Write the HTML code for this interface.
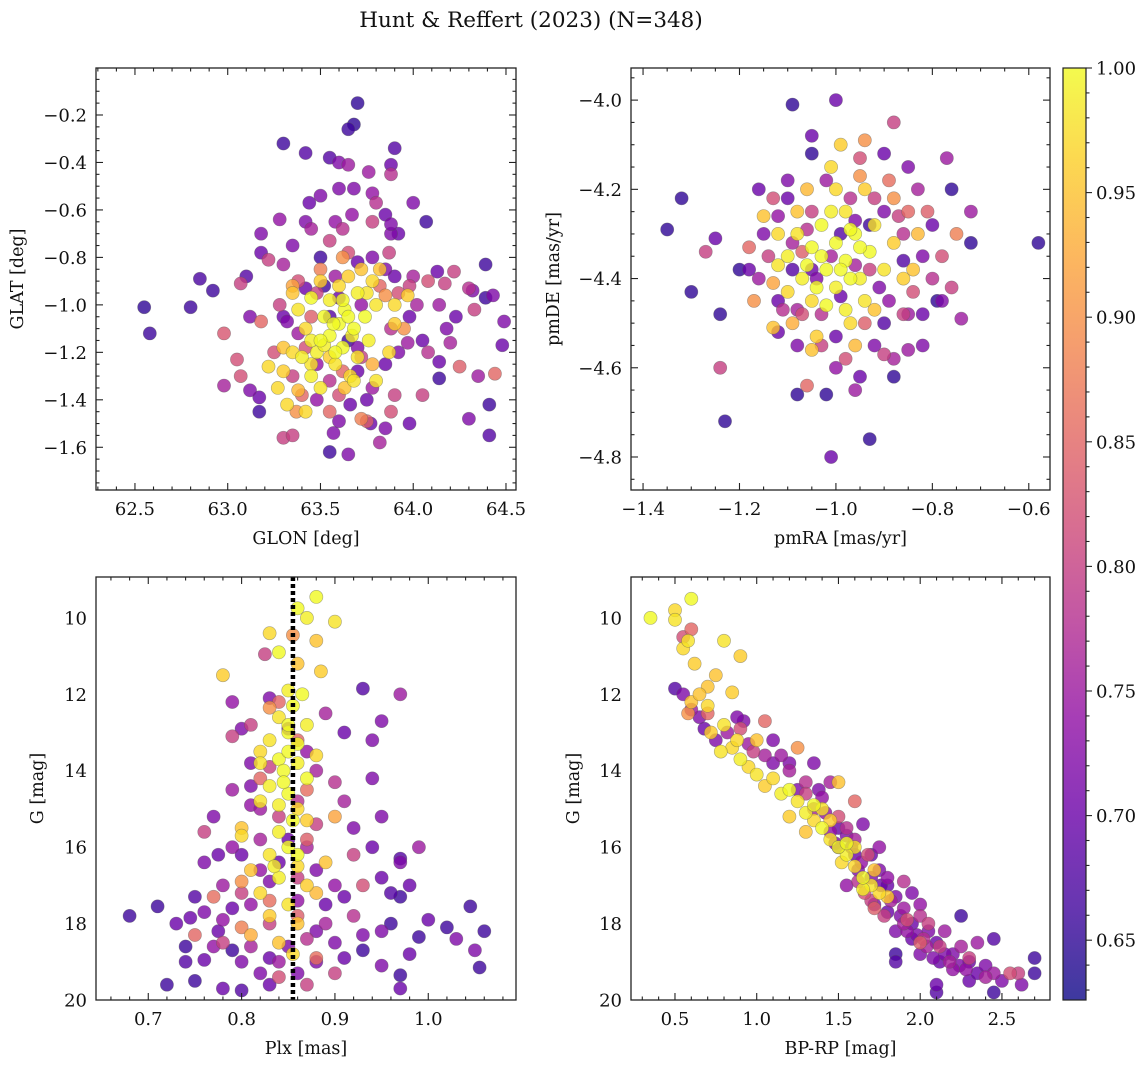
<!DOCTYPE html>
<html><head><meta charset="utf-8">
<style>
html,body{margin:0;padding:0;background:#fff;}
svg{display:block;font-family:"DejaVu Serif","Liberation Serif",serif;}
</style></head>
<body>
<svg id="fig" width="1148" height="1067" viewBox="0 0 1148 1067" xmlns="http://www.w3.org/2000/svg">
<rect width="1148" height="1067" fill="#fff"/>
<text x="531" y="27" font-size="21.5" text-anchor="middle" fill="#111">Hunt &amp; Reffert (2023) (N=348)</text>
</svg>
<script>
// Panel 1: GLON / GLAT / probability
const posData=[[62.55,-1.01,.65],[62.58,-1.12,.66],[62.8,-1.01,.66],[62.85,-0.89,.67],[62.92,-0.94,.66],[62.98,-1.12,.83],[62.98,-1.34,.76],[63.05,-1.23,.82],[63.07,-0.91,.8],[63.1,-0.88,.68],[63.12,-1.05,.72],[63.12,-1.36,.72],[63.18,-0.7,.72],[63.18,-0.78,.7],[63.17,-1.45,.66],[63.17,-1.39,.7],[63.22,-0.81,.8],[63.28,-0.64,.74],[63.3,-0.32,.66],[63.42,-0.65,.72],[63.42,-0.36,.68],[63.44,-0.57,.7],[63.55,-0.38,.68],[63.6,-0.4,.72],[63.65,-0.41,.75],[63.65,-0.26,.66],[63.68,-0.24,.65],[63.7,-0.15,.65],[63.6,-0.51,.72],[63.68,-0.51,.72],[63.5,-0.54,.72],[63.78,-0.53,.74],[63.76,-0.44,.75],[63.8,-0.57,.78],[63.88,-0.45,.78],[63.9,-0.34,.68],[63.88,-0.41,.7],[63.85,-0.62,.7],[63.88,-0.7,.72],[64.0,-0.57,.72],[64.07,-0.65,.66],[63.92,-0.7,.7],[63.88,-0.66,.72],[63.55,-0.73,.8],[63.62,-0.68,.78],[63.67,-0.62,.74],[63.35,-0.75,.72],[63.5,-0.8,.66],[63.3,-0.83,.76],[64.13,-0.86,.7],[64.22,-0.86,.8],[64.3,-0.93,.78],[64.39,-0.83,.66],[64.32,-0.94,.72],[64.39,-0.97,.66],[64.43,-0.96,.72],[64.49,-1.07,.72],[64.48,-1.17,.7],[64.35,-1.3,.75],[64.44,-1.29,.85],[64.41,-1.42,.66],[64.41,-1.55,.68],[64.3,-1.48,.72],[64.23,-1.05,.7],[64.2,-1.16,.76],[64.14,-1.24,.7],[64.14,-1.31,.66],[64.05,-1.38,.8],[63.98,-1.5,.7],[64.05,-1.15,.7],[64.14,-1.0,.75],[64.0,-0.88,.76],[64.08,-0.9,.82],[64.17,-0.91,.8],[63.3,-1.56,.8],[63.35,-1.55,.8],[63.55,-1.62,.66],[63.57,-1.54,.72],[63.65,-1.63,.72],[63.75,-1.49,.84],[63.85,-1.52,.72],[63.82,-1.58,.76],[63.77,-1.5,.7],[63.6,-1.49,.72],[63.88,-1.45,.82],[63.3,-1.05,.7],[63.32,-1.07,.72],[63.9,-1.38,.8],[63.97,-1.16,.75],[63.98,-1.05,.7],[63.92,-1.2,.72],[63.85,-0.85,.72],[63.87,-0.78,.8],[63.66,-1.42,.7],[63.75,-1.4,.7],[64.25,-1.26,.84],[64.33,-1.02,.8],[63.18,-1.07,.85],[63.07,-1.3,.82],[63.25,-1.2,.82],
[63.38,-0.9,.82],[63.42,-0.93,.7],[63.48,-0.95,.8],[63.52,-0.92,.66],[63.58,-0.88,.75],[63.65,-0.78,.82],[63.7,-0.82,.7],[63.78,-0.8,.72],[63.82,-0.92,.85],[63.9,-0.88,.7],[63.92,-0.95,.82],[63.98,-0.92,.8],[64.02,-1.0,.76],[63.88,-1.1,.78],[63.85,-1.25,.7],[63.78,-1.35,.75],[63.7,-1.18,.72],[63.62,-1.28,.85],[63.55,-1.32,.78],[63.48,-1.25,.74],[63.42,-1.18,.82],[63.38,-1.12,.75],[63.35,-1.3,.8],[63.48,-1.4,.74],[63.6,-1.38,.82],[63.7,-1.28,.7],[63.65,-1.15,.66],[63.55,-1.05,.68],[63.72,-1.0,.74],[63.6,-0.97,.7],[63.45,-1.05,.84],[63.28,-1.0,.8],[63.4,-1.38,.85],[63.72,-1.22,.8],[64.18,-1.1,.72],[64.08,-1.2,.78],[63.58,-0.65,.74],[63.78,-0.65,.8],[63.45,-0.68,.76],
[63.35,-0.95,.95],[63.38,-1.02,.98],[63.42,-1.1,.97],[63.45,-0.97,1],[63.48,-1.2,.99],[63.5,-0.9,.96],[63.52,-1.05,1],[63.55,-1.13,1],[63.55,-0.98,.99],[63.58,-1.25,.98],[63.6,-0.92,.97],[63.6,-1.08,1],[63.62,-1.18,1],[63.63,-1.02,1],[63.65,-0.88,.96],[63.66,-1.3,.97],[63.68,-1.1,1],[63.7,-0.95,.99],[63.7,-1.22,.98],[63.72,-0.85,.95],[63.74,-1.05,1],[63.76,-1.15,.99],[63.78,-0.9,.97],[63.8,-1.0,.98],[63.82,-0.85,.95],[63.3,-1.28,.96],[63.22,-1.26,.97],[63.32,-1.42,.97],[63.38,-1.36,.94],[63.45,-1.3,.99],[63.5,-1.35,.98],[63.55,-1.22,.96],[63.4,-1.22,.99],[63.3,-1.18,.95],[63.42,-1.45,.97],[63.63,-1.35,.95],[63.68,-1.32,.98],[63.8,-1.32,.98],[63.9,-1.08,.96],[63.9,-1.0,.97],[63.5,-1.15,1],[63.58,-1.2,1],[63.45,-1.15,.99],[63.62,-0.8,.9],[63.5,-0.85,.88],[63.37,-1.45,.9],[63.55,-1.45,.85],[63.72,-1.48,.88],[63.35,-0.92,.92],[63.78,-1.25,.93],[63.27,-1.35,.97],[63.85,-0.96,.9],[63.97,-0.96,.96],[63.87,-1.2,.97],[63.95,-1.1,.9],[63.57,-1.08,1],[63.65,-1.05,1],[63.62,-0.98,1],[63.67,-1.13,.99],[63.52,-1.17,.99],[63.75,-0.95,.98],[63.45,-1.25,.98],[63.35,-1.2,.97]];
// Panel 2: pmRA / pmDE / probability
const pmData=[[-1.35,-4.29,.65],[-1.32,-4.22,.65],[-1.3,-4.43,.65],[-1.25,-4.31,.7],[-1.27,-4.34,.8],[-1.24,-4.48,.65],[-1.23,-4.72,.65],[-1.24,-4.6,.8],[-1.2,-4.38,.65],[-1.18,-4.38,.7],[-1.17,-4.45,.9],[-1.15,-4.26,.95],[-1.16,-4.2,.7],[-1.13,-4.51,.95],[-1.12,-4.45,.7],[-1.09,-4.01,.65],[-1.05,-4.08,.7],[-1.05,-4.12,.65],[-1.0,-4.0,.7],[-0.94,-4.09,.9],[-0.88,-4.05,.8],[-0.77,-4.13,.75],[-0.76,-4.2,.65],[-0.72,-4.25,.75],[-0.72,-4.32,.65],[-0.74,-4.49,.75],[-0.58,-4.32,.65],[-0.93,-4.76,.65],[-1.01,-4.8,.7],[-0.96,-4.65,.75],[-1.02,-4.66,.65],[-1.08,-4.66,.65],[-1.06,-4.64,.85],[-0.88,-4.62,.65],[-0.9,-4.57,.8],[-0.85,-4.56,.75],[-0.82,-4.48,.7],[-0.79,-4.45,.65],
[-1.1,-4.18,.72],[-1.08,-4.55,.72],[-1.0,-4.6,.74],[-0.95,-4.62,.7],[-0.9,-4.5,.68],[-0.85,-4.48,.75],[-0.82,-4.35,.72],[-0.8,-4.28,.7],[-0.8,-4.4,.78],[-0.85,-4.15,.72],[-0.9,-4.12,.7],[-0.95,-4.13,.82],[-1.02,-4.18,.75],[-1.15,-4.3,.72],[-1.16,-4.4,.75],[-1.12,-4.52,.7],[-0.82,-4.55,.72],[-0.78,-4.35,.82],[-0.78,-4.45,.72],[-0.88,-4.58,.76],[-1.0,-4.53,.7],[-0.93,-4.38,.8],[-1.06,-4.29,.78],[-0.92,-4.22,.8],[-0.86,-4.3,.78],[-0.75,-4.3,.88],[-0.76,-4.42,.8],[-1.18,-4.33,.85],[-1.1,-4.22,.7],[-1.05,-4.25,.8],[-0.97,-4.22,.78],[-0.89,-4.45,.74],[-1.08,-4.47,.76],[-0.98,-4.58,.82],[-0.86,-4.36,.68],[-1.04,-4.4,.72],
[-1.14,-4.35,.8],[-1.12,-4.26,.74],[-1.09,-4.38,.68],[-1.07,-4.34,.84],[-1.03,-4.48,.78],[-0.99,-4.44,.7],[-0.96,-4.27,.72],[-0.94,-4.5,.84],[-0.91,-4.42,.72],[-0.87,-4.26,.8],[-0.84,-4.43,.82],[-0.83,-4.2,.76],[-0.93,-4.28,.66],[-1.01,-4.35,.76],[-1.07,-4.48,.82],[-1.11,-4.47,.78],[-0.99,-4.3,.68],[-0.9,-4.25,.72],[-0.96,-4.37,.76],[-1.05,-4.38,.7],[-0.86,-4.48,.8],[-0.92,-4.55,.72],[-1.03,-4.55,.8],[-1.09,-4.32,.76],[-0.81,-4.25,.84],[-0.89,-4.18,.86],[-1.13,-4.22,.82],
[-1.12,-4.3,.97],[-1.1,-4.35,.99],[-1.08,-4.3,.98],[-1.07,-4.4,.99],[-1.05,-4.33,1],[-1.05,-4.45,.97],[-1.03,-4.28,1],[-1.02,-4.38,1],[-1.0,-4.32,1],[-1.0,-4.42,.99],[-0.98,-4.25,.98],[-0.98,-4.36,1],[-0.96,-4.3,1],[-0.95,-4.4,.99],[-0.94,-4.2,.96],[-0.93,-4.34,1],[-0.92,-4.28,.98],[-0.9,-4.38,.98],[-0.88,-4.32,.96],[-1.01,-4.15,.97],[-1.0,-4.2,.97],[-1.04,-4.53,.96],[-1.05,-4.56,.95],[-1.1,-4.43,.97],[-1.12,-4.37,.98],[-0.97,-4.5,.97],[-0.92,-4.47,.95],[-0.96,-4.55,.94],[-0.86,-4.4,.96],[-0.84,-4.38,.95],[-0.83,-4.3,.94],[-1.08,-4.25,.95],[-1.06,-4.2,.94],[-0.99,-4.1,.96],[-0.95,-4.17,.9],[-0.88,-4.22,.9],[-0.85,-4.25,.85],[-1.13,-4.41,.92],[-1.09,-4.5,.93],[-0.94,-4.45,.98],[-1.02,-4.46,1],[-0.98,-4.47,.99],[-1.03,-4.35,1],[-0.97,-4.4,1],[-1.01,-4.25,.99],[-1.06,-4.37,1],[-0.99,-4.38,1],[-0.95,-4.33,1],[-1.04,-4.42,1],[-0.97,-4.29,1]];
// Panel 3: Plx / G / probability
const plxData=[[0.68,17.8,.66],[0.71,17.55,.66],[0.72,19.6,.66],[0.74,18.6,.66],[0.745,17.85,.7],[0.75,17.3,.68],[0.75,19.5,.66],[0.76,18.95,.7],[0.77,17.3,.86],[0.775,18.2,.7],[0.78,19.7,.7],[0.79,18.7,.66],[0.8,19.75,.68],[0.8,19.0,.72],[0.76,15.6,.8],[0.775,16.2,.7],[0.78,17.0,.75],[0.79,14.5,.75],[0.79,13.1,.8],[0.8,12.9,.72],[0.81,13.8,.72],[0.82,15.0,.75],[0.82,14.2,.85],[0.82,19.3,.72],[0.83,19.6,.7],[0.84,19.0,.75],[0.86,19.3,.72],[0.87,19.6,.8],[0.88,19.0,.72],[0.9,19.3,.8],[0.9,18.5,.72],[0.93,18.7,.66],[0.95,18.2,.72],[0.96,18.0,.66],[0.97,19.35,.66],[0.97,19.7,.7],[0.99,18.35,.66],[1.0,17.9,.7],[1.02,18.1,.66],[1.03,18.4,.72],[1.045,17.55,.66],[1.05,18.7,.72],[1.06,18.2,.66],[1.055,19.15,.66],[0.97,16.4,.72],[0.97,16.3,.68],[0.96,17.2,.68],[0.97,17.3,.66],[0.95,15.2,.72],[0.94,14.2,.72],[0.91,13.0,.7],[0.94,13.2,.72],[0.95,12.7,.72],[0.93,11.85,.68],[0.97,12.0,.75],[0.9,14.3,.78],[0.92,16.2,.8],[0.93,17.0,.82],[0.92,17.8,.78],[0.91,14.8,.76],[0.88,15.4,.8],[0.86,17.4,.74],[0.76,16.4,.72],[0.77,15.2,.72],[0.79,16.0,.74],[0.81,17.5,.74],[0.83,18.0,.8],[0.85,15.8,.7],[0.79,12.2,.74],[0.83,12.1,.72],[0.825,10.95,.8],[0.84,12.2,.85],[0.86,13.2,.85],[0.87,14.5,.86],[0.75,18.3,.85],[0.8,18.1,.88],[0.88,18.9,.86],[0.84,19.4,.82],[0.73,18.0,.7],[0.78,18.5,.8],[0.95,16.8,.7],[0.98,17.0,.7],[0.99,16.0,.75],[0.8,16.2,.7],[0.83,16.9,.72],[0.87,16.0,.76],[0.89,17.5,.7],[0.81,14.9,.74],[0.88,18.2,.72],[0.91,18.9,.7],
[0.82,15.8,.76],[0.84,16.4,.7],[0.86,16.8,.8],[0.88,16.6,.72],[0.9,17.0,.74],[0.91,17.3,.7],[0.89,18.0,.76],[0.87,18.4,.78],[0.85,18.6,.72],[0.83,18.9,.7],[0.81,18.6,.76],[0.79,17.6,.7],[0.78,17.9,.74],[0.8,17.2,.8],[0.82,16.6,.74],[0.86,14.8,.78],[0.84,15.2,.8],[0.88,14.0,.76],[0.81,14.4,.72],[0.83,13.9,.8],[0.87,13.5,.74],[0.85,12.9,.7],[0.89,12.5,.76],[0.81,12.8,.8],[0.92,15.5,.72],[0.94,16.0,.7],[0.77,18.6,.74],[0.93,18.3,.72],[0.95,19.1,.72],[0.98,18.8,.7],[0.76,17.7,.72],[0.74,19.0,.68],[0.86,17.8,.84],[0.83,17.4,.86],[0.87,15.8,.84],
[0.88,9.45,1],[0.86,9.75,1],[0.87,10.0,.99],[0.9,10.1,.98],[0.83,10.4,.97],[0.855,10.45,.9],[0.88,10.6,.95],[0.84,10.9,1],[0.86,11.2,.95],[0.885,11.4,.96],[0.85,11.9,.99],[0.855,12.3,1],[0.83,12.35,.9],[0.78,11.5,.96],[0.84,12.6,.98],[0.87,12.8,.99],[0.85,13.0,1],[0.83,13.2,.98],[0.86,13.3,1],[0.82,13.5,.97],[0.84,13.7,1],[0.86,13.8,.99],[0.88,13.6,.97],[0.82,13.8,.98],[0.845,14.0,1],[0.87,14.2,1],[0.83,14.4,.99],[0.85,14.6,1],[0.82,14.8,.98],[0.86,15.0,.97],[0.8,15.5,.95],[0.8,15.7,.97],[0.84,15.6,.99],[0.87,15.3,.96],[0.85,16.0,1],[0.83,16.2,.98],[0.86,16.5,.97],[0.81,16.6,.95],[0.84,16.8,.99],[0.87,17.0,.96],[0.82,17.2,.97],[0.85,17.5,.98],[0.88,17.2,.94],[0.83,17.8,.96],[0.86,18.0,.95],[0.81,18.3,.93],[0.84,18.5,.95],[0.855,18.8,.97],[0.89,16.4,.95],[0.9,15.2,.92],[0.8,16.9,.9],[0.85,12.8,1],[0.84,14.9,.99],[0.86,16.2,1],[0.85,13.5,1],[0.845,14.3,1],[0.855,15.3,1],[0.835,16.5,.99],[0.865,12.0,1]];
// Panel 4: BP-RP / G / probability
const cmdData=[[0.5,11.85,.68],[0.55,12.0,.72],[0.6,12.4,.75],[0.65,12.6,.72],[0.68,12.9,.7],[0.75,13.2,.72],[0.82,13.0,.75],[0.9,12.9,.82],[0.95,13.3,.75],[1.05,12.7,.85],[1.1,13.2,.72],[1.15,13.6,.75],[1.2,13.8,.72],[1.3,14.3,.78],[1.38,14.5,.72],[1.42,15.1,.74],[1.5,15.5,.7],[1.55,15.7,.72],[1.6,14.8,.85],[1.6,15.8,.76],[1.62,16.6,.72],[1.7,16.2,.7],[1.75,16.6,.72],[1.8,16.8,.74],[1.72,17.5,.72],[1.8,17.7,.7],[1.85,17.3,.72],[1.9,17.6,.75],[1.95,18.0,.7],[1.85,18.2,.72],[2.0,17.5,.74],[2.05,18.2,.72],[2.1,18.5,.7],[2.0,18.8,.72],[2.15,18.2,.75],[2.2,18.8,.72],[2.25,18.6,.76],[2.3,19.0,.7],[2.35,18.5,.75],[2.4,19.1,.72],[2.45,18.4,.68],[2.45,19.3,.75],[2.5,19.5,.72],[2.55,19.3,.82],[2.6,19.3,.8],[2.62,19.6,.72],[2.7,18.9,.66],[2.7,19.3,.66],[2.45,19.8,.66],[2.3,19.5,.7],[2.2,19.2,.74],[2.1,19.6,.7],[2.1,19.8,.68],[1.85,18.8,.66],[1.85,19.0,.68],[2.25,17.8,.66],[2.0,17.8,.78],[1.9,16.9,.78],[1.75,16.0,.74],[1.68,16.2,.82],[1.4,14.7,.74],[1.35,13.8,.72],[0.92,12.7,.72],[0.88,12.6,.72],[2.0,18.5,.84],[2.3,18.9,.8],[1.95,17.2,.72],[1.7,17.4,.8],[1.55,17.0,.74],[1.65,15.4,.72],[1.5,15.2,.82],[1.2,14.0,.76],[0.7,12.5,.85],[0.55,10.5,.82],[0.6,10.3,.85],[1.45,14.3,.76],[2.15,18.8,.72],[1.95,18.4,.7],[1.8,17.0,.7],[1.9,18.0,.76],[2.05,18.0,.8],[1.6,16.2,.7],[1.5,16.0,.72],
[1.58,16.0,.7],[1.64,16.4,.74],[1.7,16.8,.72],[1.76,17.0,.7],[1.82,17.4,.76],[1.88,17.8,.72],[1.92,18.2,.74],[1.98,18.3,.72],[2.04,18.6,.76],[2.08,18.9,.72],[2.12,19.0,.7],[2.18,19.0,.76],[2.24,19.1,.72],[2.28,19.2,.74],[2.35,19.3,.7],[2.4,19.4,.76],[1.66,17.2,.82],[1.72,17.6,.84],[1.78,17.8,.8],[1.62,16.9,.78],[1.45,15.6,.74],[1.35,15.0,.76],[1.25,14.5,.72],[1.3,14.6,.8],[1.1,13.8,.72],[1.05,13.6,.76],[0.98,13.5,.8],[1.92,17.9,.82],[2.02,18.4,.78],[2.12,18.6,.8],[1.55,15.5,.78],[1.48,15.9,.72],
[0.35,10.0,1],[0.5,10.05,.98],[0.5,9.8,.97],[0.6,9.5,1],[0.55,10.8,.97],[0.58,10.6,.98],[0.62,11.2,.96],[0.8,10.6,.98],[0.9,11.0,.96],[0.75,11.5,.95],[0.7,11.8,.95],[0.85,11.95,.96],[0.6,12.2,.95],[0.58,12.5,.9],[0.7,12.3,.97],[0.8,12.8,.98],[0.72,13.0,.96],[0.85,13.4,.97],[0.78,13.5,.98],[0.9,13.7,.99],[0.95,13.9,.97],[1.0,14.1,.98],[1.05,14.4,.96],[0.88,13.2,.97],[1.1,14.2,.97],[1.2,14.5,1],[1.25,14.8,.98],[1.3,15.1,.99],[1.35,15.3,.97],[1.4,15.5,1],[1.45,15.8,.98],[1.5,16.0,1],[1.55,16.2,.99],[1.6,16.5,.97],[1.65,16.8,1],[1.7,17.0,.98],[1.75,17.2,.97],[1.8,17.3,.96],[1.3,15.6,.95],[1.45,15.3,.96],[1.5,14.3,.95],[1.52,16.4,.97],[1.6,16.0,.98],[1.65,17.1,.99],[1.72,16.6,.95],[1.4,15.0,.98],[1.2,15.2,.96],[1.0,13.2,.95],[0.65,12.0,.95],[1.25,13.4,.9],[1.15,14.6,.99],[1.35,14.9,1],[1.55,15.9,1]];
const plxMean=[0.855];
const cbTicks=[0.65,0.70,0.75,0.80,0.85,0.90,0.95,1.00];
const cbMin=0.626, cbMax=1.0;

const NS='http://www.w3.org/2000/svg';
const svg=document.getElementById('fig');
function mk(tag,attrs,parent){const e=document.createElementNS(NS,tag);for(const k in attrs)e.setAttribute(k,attrs[k]);(parent||svg).appendChild(e);return e;}
const stops=[[0,'#0d0887'],[.1,'#41049d'],[.2,'#6a00a8'],[.3,'#8f0da4'],[.4,'#b12a90'],[.5,'#cc4778'],[.6,'#e16462'],[.7,'#f2844b'],[.8,'#fca636'],[.9,'#fcce25'],[1,'#f0f921']];
function hex(h){return [1,3,5].map(i=>parseInt(h.substr(i,2),16));}
function plasma(t){t=Math.max(0,Math.min(1,t));for(let i=1;i<stops.length;i++){if(t<=stops[i][0]){const a=stops[i-1],b=stops[i];const f=(t-a[0])/(b[0]-a[0]);const A=hex(a[1]),B=hex(b[1]);return 'rgb('+A.map((v,j)=>Math.round(v+(B[j]-v)*f)).join(',')+')';}}return stops[stops.length-1][1];}
function fmt(v,d){return (v<0?'\u2212':'')+Math.abs(v).toFixed(d);}
const FS=18;

function panel(o){
  const g=mk('g',{});
  
  
  const {x0,x1,y0,y1}=o.box;
  const sx=v=>x0+(v-o.xd[0])/(o.xd[1]-o.xd[0])*(x1-x0);
  const sy=v=>y0+(v-o.yd[1])/(o.yd[0]-o.yd[1])*(y1-y0);
  const pts=o.data.slice().sort((a,b)=>a[2]-b[2]);
  const pg=mk('g',{},g);
  
  
  pts.forEach(d=>{
    const c=mk('circle',{cx:sx(d[0]).toFixed(1),cy:sy(d[1]).toFixed(1),r:6.6,fill:plasma((d[2]-cbMin)/(cbMax-cbMin)),'fill-opacity':0.8,stroke:'rgba(90,90,90,0.5)','stroke-width':0.6},pg);
    
    
  });
  if(o.vline){o.vline.forEach(v=>{const l=mk('line',{x1:sx(v),x2:sx(v),y1:y0,y2:y1,stroke:'#000','stroke-width':4.5,'stroke-dasharray':'4,3'},g);
    
    });}
  const fr=mk('rect',{x:x0,y:y0,width:x1-x0,height:y1-y0,fill:'none',stroke:'#222','stroke-width':1.3},g);
  
  
  const tk=mk('g',{stroke:'#222','stroke-width':1.1},g);
  const eps=1e-9;
  for(let v=Math.ceil(o.xd[0]/o.xmin-eps)*o.xmin;v<=o.xd[1]+eps;v+=o.xmin){const X=sx(v);const maj=Math.abs(v/o.xmaj-Math.round(v/o.xmaj))<1e-6;const L=maj?7:3.5;mk('line',{x1:X,x2:X,y1:y1,y2:y1-L},tk);mk('line',{x1:X,x2:X,y1:y0,y2:y0+L},tk);}
  for(let v=Math.ceil(o.yd[0]/o.ymin-eps)*o.ymin;v<=o.yd[1]+eps;v+=o.ymin){const Y=sy(v);const maj=Math.abs(v/o.ymaj-Math.round(v/o.ymaj))<1e-6;const L=maj?7:3.5;mk('line',{x1:x0,x2:x0+L,y1:Y,y2:Y},tk);mk('line',{x1:x1,x2:x1-L,y1:Y,y2:Y},tk);}
  o.xt.forEach(v=>{const t=mk('text',{x:sx(v),y:y1+25,'font-size':FS,'text-anchor':'middle',fill:'#111'},g);t.textContent=fmt(v,o.xdec);
    });
  o.yt.forEach(v=>{const t=mk('text',{x:x0-9,y:sy(v)+6.5,'font-size':FS,'text-anchor':'end',fill:'#111'},g);t.textContent=fmt(v,o.ydec);
    });
  const xl=mk('text',{x:(x0+x1)/2,y:y1+54,'font-size':17.5,'text-anchor':'middle',fill:'#111'},g);xl.textContent=o.xlab;
  
  const yl=mk('text',{x:0,y:0,'font-size':17.5,'text-anchor':'middle',fill:'#111',transform:`translate(${o.ylx},${(y0+y1)/2}) rotate(-90)`},g);yl.textContent=o.ylab;
  
}
panel({name:'glon-glat-panel',box:{x0:96,x1:516,y0:68,y1:490},xd:[62.29,64.554],yd:[-1.78,-0.002],xt:[62.5,63.0,63.5,64.0,64.5],yt:[-1.6,-1.4,-1.2,-1.0,-0.8,-0.6,-0.4,-0.2],xmaj:0.5,xmin:0.1,ymaj:0.2,ymin:0.05,xdec:1,ydec:1,xlab:'GLON [deg]',ylab:'GLAT [deg]',ylx:23,data:posData});
panel({name:'proper-motion-panel',box:{x0:631,x1:1050,y0:68,y1:490},xd:[-1.425,-0.556],yd:[-4.874,-3.928],xt:[-1.4,-1.2,-1.0,-0.8,-0.6],yt:[-4.8,-4.6,-4.4,-4.2,-4.0],xmaj:0.2,xmin:0.05,ymaj:0.2,ymin:0.05,xdec:1,ydec:1,xlab:'pmRA [mas/yr]',ylab:'pmDE [mas/yr]',ylx:559,data:pmData});
panel({name:'parallax-magnitude-panel',box:{x0:96,x1:516,y0:577,y1:1000},xd:[0.644,1.094],yd:[20,8.93],xt:[0.7,0.8,0.9,1.0],yt:[10,12,14,16,18,20],xmaj:0.1,xmin:0.02,ymaj:2,ymin:0.5,xdec:1,ydec:0,xlab:'Plx [mas]',ylab:'G [mag]',ylx:43,data:plxData,vline:plxMean});
panel({name:'color-magnitude-panel',box:{x0:631,x1:1050,y0:577,y1:1000},xd:[0.231,2.794],yd:[20,8.93],xt:[0.5,1.0,1.5,2.0,2.5],yt:[10,12,14,16,18,20],xmaj:0.5,xmin:0.1,ymaj:2,ymin:0.5,xdec:1,ydec:0,xlab:'BP-RP [mag]',ylab:'G [mag]',ylx:579,data:cmdData});

// colorbar
(function(){
  const g=mk('g',{});
  
  
  const x0=1063,x1=1086,y0=68,y1=1000;
  const defs=mk('defs',{},g);
  const lg=mk('linearGradient',{id:'cbg',x1:0,y1:1,x2:0,y2:0},defs);
  stops.forEach(s=>mk('stop',{offset:s[0],'stop-color':s[1]},lg));
  mk('rect',{x:x0,y:y0,width:x1-x0,height:y1-y0,fill:'url(#cbg)','fill-opacity':0.8},g);
  mk('rect',{x:x0,y:y0,width:x1-x0,height:y1-y0,fill:'none',stroke:'#222','stroke-width':1.2},g);
  const sy=v=>y1-(v-cbMin)/(cbMax-cbMin)*(y1-y0);
  for(let v=0.63;v<=1.0001;v+=0.01){const Y=sy(v);const maj=Math.abs(v*20-Math.round(v*20))<1e-6;mk('line',{x1:x1,x2:x1+(maj?6:3.5),y1:Y,y2:Y,stroke:'#222','stroke-width':1.1},g);}
  cbTicks.forEach(v=>{const t=mk('text',{x:x1+10,y:sy(v)+6.5,'font-size':FS,fill:'#111'},g);t.textContent=v.toFixed(2);
    });
})();
</script>
</body></html>
